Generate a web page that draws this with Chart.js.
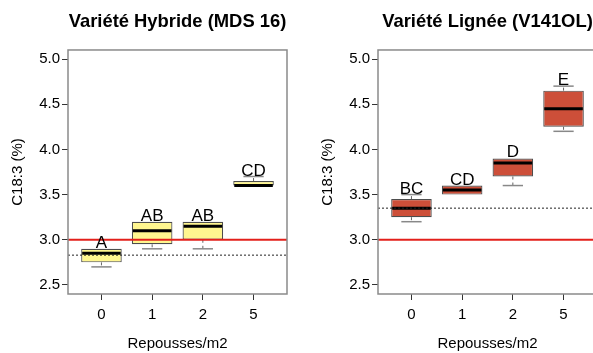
<!DOCTYPE html>
<html>
<head>
<meta charset="utf-8">
<script src="https://cdn.jsdelivr.net/npm/chart.js@4"></script>
<style>
  html, body { margin: 0; padding: 0; background: #fff; overflow: hidden; }
  body { width: 593px; height: 353px; position: relative; }
  canvas { position: absolute; top: 0; }
  #hybChart { left: 0; }
  #linChart { left: 310px; }
</style>
</head>
<body>
<canvas id="hybChart" width="300" height="353"></canvas>
<canvas id="linChart" width="300" height="353"></canvas>
<script>
// Repousses/m2 categories and y ticks
const categories = ['0', '1', '2', '5'];
const yTicks = [2.5, 3.0, 3.5, 4.0, 4.5, 5.0];

// Variété Hybride (MDS 16) — box stats
const hybMin = [2.70, 2.90, 2.90, 3.60];
const hybQ1  = [2.75, 2.95, 3.00, 3.60];
const hybMed = [2.85, 3.10, 3.15, 3.60];
const hybQ3  = [2.90, 3.20, 3.20, 3.65];
const hybMax = [2.90, 3.20, 3.20, 3.70];
const hybLetters = ['A', 'AB', 'AB', 'CD'];
const hybControl = 2.83;

// Variété Lignée (V141OL) — box stats
const linMin = [3.20, 3.50, 3.60, 4.20];
const linQ1  = [3.25, 3.50, 3.70, 4.25];
const linMed = [3.35, 3.55, 3.85, 4.45];
const linQ3  = [3.45, 3.60, 3.90, 4.65];
const linMax = [3.50, 3.60, 3.90, 4.70];
const linLetters = ['BC', 'CD', 'D', 'E'];
const linControl = 3.35;

// threshold line
const seuil = 3.0;

const FONT = "'Liberation Sans', Arial, sans-serif";

function makePanel(id, title, fill, mins, q1, med, q3, maxs, letters, control) {
  const n = categories.length;
  const xMin = 0.5 - 0.04 * n;
  const xMax = n + 0.5 + 0.04 * n;

  // whiskers under the boxes, medians and letters on top
  const boxPlugin = {
    id: 'boxParts',
    beforeDatasetDraw(chart, args) {
      if (args.index !== 2) return;
      const ctx = chart.ctx;
      const y = chart.scales.y;
      args.meta.data.forEach((bar, i) => {
        const half = bar.width / 4;
        ctx.save();
        [[q3[i], maxs[i]], [q1[i], mins[i]]].forEach(([from, to]) => {
          if (from === to) return;
          ctx.strokeStyle = '#666';
          ctx.lineWidth = 1;
          ctx.setLineDash([3, 3]);
          ctx.beginPath();
          ctx.moveTo(bar.x, y.getPixelForValue(from));
          ctx.lineTo(bar.x, y.getPixelForValue(to));
          ctx.stroke();
          ctx.setLineDash([]);
          ctx.lineWidth = 1.5;
          ctx.strokeStyle = '#888';
          ctx.beginPath();
          ctx.moveTo(bar.x - half, y.getPixelForValue(to));
          ctx.lineTo(bar.x + half, y.getPixelForValue(to));
          ctx.stroke();
        });
        ctx.restore();
      });
    },
    afterDatasetDraw(chart, args) {
      if (args.index !== 2) return;
      const ctx = chart.ctx;
      const y = chart.scales.y;
      ctx.save();
      ctx.strokeStyle = '#000';
      ctx.lineWidth = 3;
      args.meta.data.forEach((bar, i) => {
        const py = y.getPixelForValue(med[i]);
        ctx.beginPath();
        ctx.moveTo(bar.x - bar.width / 2 + 1, py);
        ctx.lineTo(bar.x + bar.width / 2 - 1, py);
        ctx.stroke();
      });
      ctx.restore();
    },
    afterDatasetsDraw(chart) {
      const ctx = chart.ctx;
      const x = chart.scales.x;
      const y = chart.scales.y;
      ctx.save();
      ctx.fillStyle = '#000';
      ctx.font = '17px ' + FONT;
      ctx.textAlign = 'center';
      ctx.textBaseline = 'alphabetic';
      letters.forEach((t, i) => {
        ctx.fillText(t, x.getPixelForValue(i + 1), y.getPixelForValue(maxs[i]) - 1);
      });
      // plot frame
      const a = chart.chartArea;
      ctx.strokeStyle = '#8a8a8a';
      ctx.lineWidth = 1.5;
      ctx.strokeRect(a.left, a.top, a.right - a.left, a.bottom - a.top);
      ctx.restore();
    }
  };

  new Chart(document.getElementById(id), {
    type: 'bar',
    data: {
      datasets: [
        {
          type: 'line',
          data: [{ x: xMin, y: seuil }, { x: xMax, y: seuil }],
          borderColor: '#e3201b',
          borderWidth: 2,
          pointRadius: 0
        },
        {
          type: 'line',
          data: [{ x: xMin, y: control }, { x: xMax, y: control }],
          borderColor: '#222',
          borderWidth: 1,
          borderDash: [2, 2],
          pointRadius: 0
        },
        {
          data: categories.map((c, i) => ({ x: i + 1, y: [q1[i], q3[i]] })),
          backgroundColor: fill,
          borderColor: '#4d4d4d',
          borderWidth: 1.2,
          borderSkipped: false,
          barPercentage: 0.8,
          categoryPercentage: 1
        }
      ]
    },
    options: {
      responsive: false,
      animation: false,
      layout: { padding: { right: 13 } },
      plugins: {
        legend: { display: false },
        tooltip: { enabled: false },
        title: {
          display: true,
          text: title,
          color: '#000',
          fullSize: false,
          font: { family: FONT, size: 18.4, weight: 'bold' },
          padding: { top: 10.5, bottom: 17.4 }
        }
      },
      scales: {
        x: {
          type: 'linear',
          offset: false,
          min: xMin,
          max: xMax,
          afterBuildTicks: s => { s.ticks = categories.map((c, i) => ({ value: i + 1 })); },
          afterFit: s => { s.height = 59; },
          ticks: {
            color: '#000',
            font: { family: FONT, size: 15 },
            padding: 6,
            callback: v => categories[v - 1]
          },
          grid: { offset: false, drawOnChartArea: false, tickLength: 6, tickColor: '#333' },
          border: { display: false },
          title: {
            display: true,
            text: 'Repousses/m2',
            color: '#000',
            font: { family: FONT, size: 15 },
            padding: { top: 0, bottom: 0 }
          }
        },
        y: {
          min: 2.4,
          max: 5.1,
          afterBuildTicks: s => { s.ticks = yTicks.map(v => ({ value: v })); },
          afterFit: s => { s.width = 68; },
          ticks: {
            color: '#000',
            font: { family: FONT, size: 15 },
            padding: 2,
            callback: v => v.toFixed(1)
          },
          grid: { drawOnChartArea: false, tickLength: 6, tickColor: '#333' },
          border: { display: false },
          title: {
            display: true,
            text: 'C18:3 (%)',
            color: '#000',
            font: { family: FONT, size: 15 },
            padding: { top: 9, bottom: 0 }
          }
        }
      }
    },
    plugins: [boxPlugin]
  });
}

makePanel('hybChart', 'Variété Hybride (MDS 16)', '#fff68f',
  hybMin, hybQ1, hybMed, hybQ3, hybMax, hybLetters, hybControl);
makePanel('linChart', 'Variété Lignée (V141OL)', '#cd4f39',
  linMin, linQ1, linMed, linQ3, linMax, linLetters, linControl);
</script>
</body>
</html>
